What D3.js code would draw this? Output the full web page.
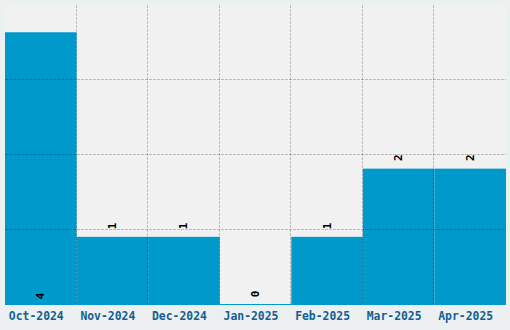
<!DOCTYPE html>
<html>
<head>
<meta charset="utf-8">
<script src="https://cdn.jsdelivr.net/npm/d3@7"></script>
<style>
  body { margin: 0; background: #ecf0f1; }
  svg { display: block; }
  text { font-family: "DejaVu Sans Mono", monospace; font-weight: bold; }
</style>
</head>
<body>
<div id="chart"></div>
<script>
const months = ["Oct-2024", "Nov-2024", "Dec-2024", "Jan-2025", "Feb-2025", "Mar-2025", "Apr-2025"];
const counts = [4, 1, 1, 0, 1, 2, 2];

const W = 510, H = 330;
const margin = {top: 5, right: 4, bottom: 25, left: 5},
      width = W - margin.left - margin.right,
      height = H - margin.top - margin.bottom;

const svg = d3.select("#chart").append("svg")
    .attr("width", W)
    .attr("height", H)
    .append("g")
    .attr("transform", `translate(${margin.left},${margin.top})`);

const x = d3.scaleBand().domain(months).range([0, width]).padding(0);
const y = d3.scaleLinear().domain([0, d3.max(counts) * 1.1]).range([height, 0]);

svg.append("rect")
    .attr("width", width)
    .attr("height", height)
    .attr("fill", "#f1f1f1");

const data = months.map((m, i) => ({month: m, value: counts[i]}));

// bars
svg.selectAll(".bar").data(data).enter().append("rect")
    .attr("class", "bar")
    .attr("x", d => x(d.month))
    .attr("width", x.bandwidth())
    .attr("y", d => Math.min(y(d.value), height - 1))
    .attr("height", d => Math.max(height - y(d.value), 1))
    .attr("fill", "#0099cc");

// grid, drawn over the bars
const gridColor = "rgba(0,0,0,0.22)";
const hTicks = d3.range(1, 4).map(i => y.domain()[1] * i / 4);
svg.selectAll(".hgrid").data(hTicks).enter().append("line")
    .attr("x1", 0).attr("x2", width)
    .attr("y1", d => Math.round(y(d)) - 0.5).attr("y2", d => Math.round(y(d)) - 0.5)
    .style("stroke", gridColor)
    .style("stroke-dasharray", "3,1");
svg.selectAll(".vgrid").data(months.slice(1)).enter().append("line")
    .attr("y1", 0).attr("y2", height)
    .attr("x1", d => Math.round(x(d)) - 0.5).attr("x2", d => Math.round(x(d)) - 0.5)
    .style("stroke", gridColor)
    .style("stroke-dasharray", "3,1");

// value labels (moved to the bar foot when the bar reaches the top)
svg.selectAll(".val").data(data).enter().append("text")
    .attr("class", "val")
    .attr("transform", d => {
        const cx = x(d.month) + x.bandwidth() / 2;
        let cy = y(d.value) - 11;
        if (y(d.value) < 40) cy = height - 9;
        return `translate(${cx},${cy}) rotate(-90)`;
    })
    .attr("text-anchor", "middle")
    .attr("dominant-baseline", "central")
    .style("font-size", "11px")
    .attr("fill", "#000")
    .text(d => d.value);

// x labels
svg.selectAll(".xl").data(months).enter().append("text")
    .attr("class", "xl")
    .attr("x", d => x(d) + x.bandwidth() / 2 - 4.5)
    .attr("y", height + 14.5)
    .attr("text-anchor", "middle")
    .style("font-size", "11.4px")
    .attr("fill", "#135f92")
    .text(d => d);
</script>
</body>
</html>
